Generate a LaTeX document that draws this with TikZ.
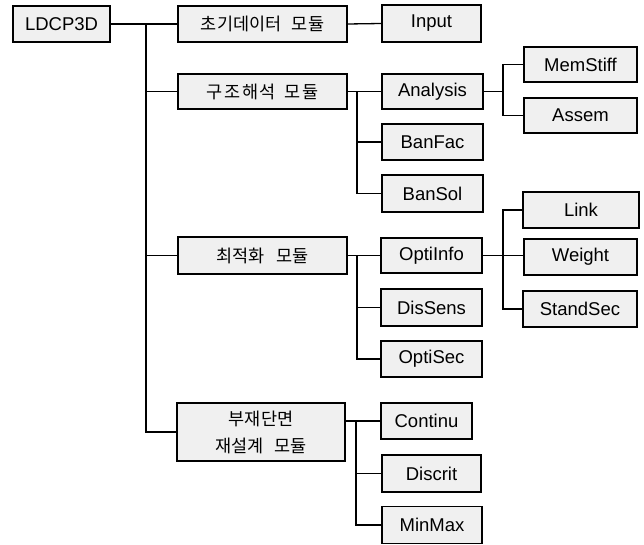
\documentclass[tikz,border=0pt]{standalone}
\usepackage{fontspec}
\setmainfont{Liberation Sans}
\newfontfamily\kr{Noto Sans CJK KR}
\newfontfamily\krw[LetterSpace=10]{Noto Sans CJK KR}
\begin{document}
\begin{tikzpicture}[x=1pt,y=-1pt,
  box/.style={draw=black,line width=1.3pt,fill=black!6,inner sep=0pt,
    align=center,font=\fontsize{18.5}{21}\selectfont},
  krbox/.style={box,font=\kr\fontsize{17.5}{27}\selectfont},
  link/.style={line width=1.3pt,black}]
\useasboundingbox (0,0) rectangle (644,545);
% root and level 1
\node[box,minimum width=97pt,minimum height=36pt] (root) at (61.5,24) {LDCP3D};
\node[krbox,minimum width=169pt,minimum height=36pt] (m1) at (262.5,24) {초기데이터\hspace{0.6em}모듈};
\node[krbox,minimum width=169pt,minimum height=35pt] (m2) at (262.5,91.5) {\krw 구조해석\hspace{0.5em}모듈};
\node[krbox,minimum width=169pt,minimum height=37pt] (m3) at (262.5,255.5) {최적화\hspace{0.7em}모듈};
\node[krbox,minimum width=168pt,minimum height=58pt] (m4) at (261,432) {부재단면\\재설계\hspace{0.6em}모듈};
% level 2
\node[box,minimum width=99pt,minimum height=37pt] (input) at (431.5,23.5) {Input};
\node[box,minimum width=101pt,minimum height=35pt] (analysis) at (432.5,91.5) {Analysis};
\node[box,minimum width=101pt,minimum height=36pt] (banfac) at (432.5,142) {BanFac};
\node[box,minimum width=101pt,minimum height=37pt] (bansol) at (432.5,193.5) {BanSol};
\node[box,minimum width=101pt,minimum height=35pt] (optiinfo) at (431.5,255.5) {OptiInfo};
\node[box,minimum width=101pt,minimum height=37pt] (dissens) at (431.5,307.5) {DisSens};
\node[box,minimum width=101pt,minimum height=36pt] (optisec) at (431.5,359) {OptiSec};
\node[box,minimum width=91pt,minimum height=36pt] (continu) at (426.5,421) {Continu};
\node[box,minimum width=99pt,minimum height=37pt] (discrit) at (431.5,473.5) {Discrit};
\node[box,minimum width=100pt,minimum height=37pt] (minmax) at (432,525) {MinMax};
% level 3
\node[box,minimum width=113pt,minimum height=35pt] (memstiff) at (580.5,64.5) {MemStiff};
\node[box,minimum width=113pt,minimum height=35pt] (assem) at (580.5,115.5) {Assem};
\node[box,minimum width=116pt,minimum height=36pt] (linkn) at (581,210) {Link};
\node[box,minimum width=113pt,minimum height=36pt] (weight) at (580.5,257) {Weight};
\node[box,minimum width=114pt,minimum height=36pt] (standsec) at (580,309) {StandSec};
% junctions
\coordinate (j0) at (146,24);
\coordinate (j2) at (357,91.5);
\coordinate (j3) at (357,255.5);
\coordinate (j4) at (356,421);
\coordinate (ja) at (503,91.5);
\coordinate (jo) at (503,255.5);
% connectors
\draw[link] (root.east) -- (m1.west);
\draw[link] (j0) |- (m2.west);
\draw[link] (j0) |- (m3.west);
\draw[link] (j0) |- (m4.west);
\draw[link] (m1.east) -- (input.west);
\draw[link] (m2.east) -- (analysis.west);
\draw[link] (j2) |- (banfac.west);
\draw[link] (j2) |- (bansol.west);
\draw[link] (m3.east) -- (optiinfo.west);
\draw[link] (j3) |- (dissens.west);
\draw[link] (j3) |- (optisec.west);
\draw[link] (m4.east |- continu.west) -- (continu.west);
\draw[link] (j4) |- (discrit.west);
\draw[link] (j4) |- (minmax.west);
\draw[link] (analysis.east) -- (ja);
\draw[link] (ja) |- (memstiff.west);
\draw[link] (ja) |- (assem.west);
\draw[link] (optiinfo.east) -- (weight.west |- jo) ;
\draw[link] (jo) |- (linkn.west);
\draw[link] (jo) |- (standsec.west);
\end{tikzpicture}
\end{document}
